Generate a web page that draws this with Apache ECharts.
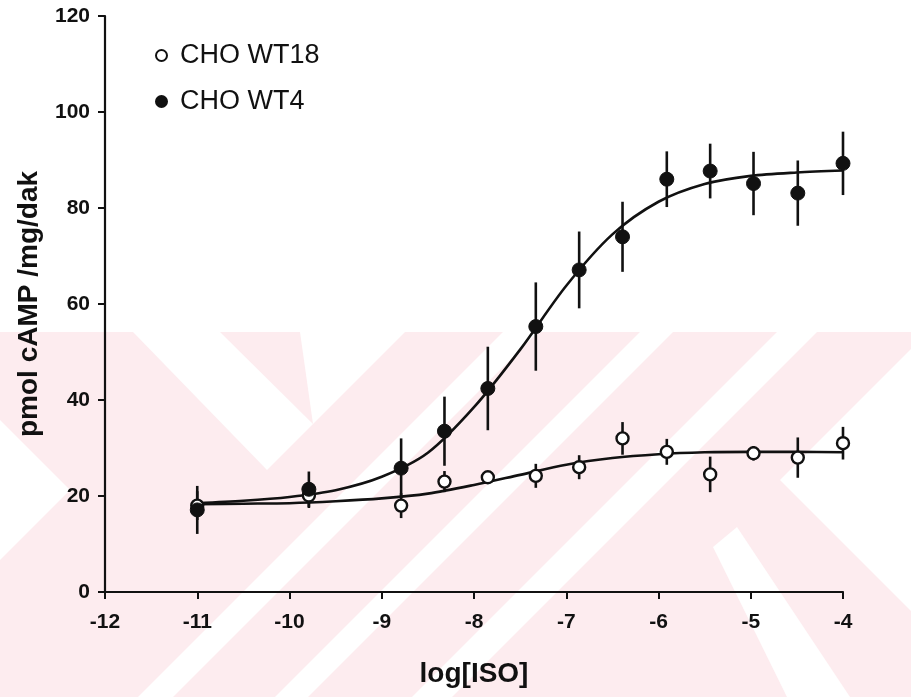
<!DOCTYPE html>
<html>
<head>
<meta charset="utf-8">
<script src="https://cdn.jsdelivr.net/npm/echarts@6/dist/echarts.min.js"></script>
<style>
html,body{margin:0;padding:0;background:#fff;}
#chart{width:911px;height:697px;}
</style>
</head>
<body>
<div id="chart"></div>
<script>
// log[ISO] concentrations of the measured points
const logIso = [-11, -9.79, -8.79, -8.32, -7.85, -7.33, -6.86, -6.39, -5.91, -5.44, -4.97, -4.49, -4.0];
// CHO WT18 (open circles)
const wt18Mean = [18.0, 20.1, 18.0, 23.0, 23.9, 24.2, 26.0, 32.0, 29.2, 24.5, 28.9, 28.0, 31.0];
const wt18Err  = [3.0, 2.6, 2.6, 2.2, 1.0, 2.5, 2.5, 3.4, 2.7, 3.7, 1.5, 4.2, 3.4];
// CHO WT4 (filled circles)
const wt4Mean = [17.1, 21.4, 25.8, 33.5, 42.4, 55.3, 67.1, 74.0, 86.0, 87.7, 85.1, 83.1, 89.3];
const wt4Err  = [5.0, 3.7, 6.2, 7.2, 8.7, 9.2, 8.0, 7.3, 5.8, 5.7, 6.6, 6.8, 6.6];
// fitted curves
const fitX     = [-11, -10.5, -10, -9.5, -9, -8.5, -8, -7.5, -7, -6.5, -6, -5.5, -5, -4.5, -4];
const wt18Fit  = [18.3, 18.4, 18.5, 18.9, 19.5, 20.5, 22.3, 24.4, 26.5, 27.9, 28.7, 29.1, 29.2, 29.2, 29.1];
const wt4Fit   = [18.5, 19.0, 19.8, 21.2, 24.0, 29.0, 38.5, 50.5, 63.8, 74.5, 81.3, 85.0, 86.7, 87.4, 87.8];
// axis ticks
const xTicks = [-12, -11, -10, -9, -8, -7, -6, -5, -4];
const yTicks = [0, 20, 40, 60, 80, 100, 120];

const ink = '#111111';
const pink = '#fdecef';
const FONT = '"Liberation Sans", Arial, sans-serif';

function pts(xs, ys) { return xs.map((x, i) => [x, ys[i]]); }
function errPts(xs, ys, es) { return xs.map((x, i) => [x, ys[i], es[i]]); }

function errRender(params, api) {
  const x = api.value(0), y = api.value(1), e = api.value(2);
  const a = api.coord([x, y + e]);
  const b = api.coord([x, y - e]);
  return { type: 'line', shape: { x1: a[0], y1: a[1], x2: b[0], y2: b[1] },
           style: { stroke: ink, lineWidth: 2.6 } };
}

// faint background watermark (decorative)
function poly(points, fill) {
  return { type: 'polygon', silent: true, z: -10, shape: { points: points }, style: { fill: fill } };
}
function slashStripe(u1, u2) {
  return poly([[u1 - 332, 332], [u2 - 332, 332], [u2 - 697, 697], [u1 - 697, 697]], '#ffffff');
}
const watermark = [
  { type: 'rect', silent: true, z: -11, shape: { x: 0, y: 332, width: 911, height: 365 }, style: { fill: pink } },
  poly([[0, 420], [70, 490], [0, 560]], '#ffffff'),
  poly([[133, 332], [220, 332], [313, 424], [267, 470]], '#ffffff'),
  poly([[300, 332], [405, 332], [313, 424]], '#ffffff'),
  slashStripe(835, 870),
  slashStripe(972, 1005),
  slashStripe(1109, 1149),
  poly([[713, 547], [737, 527], [850, 697], [787, 697]], '#ffffff'),
  poly([[780, 480], [911, 349], [911, 611]], '#ffffff')
];

const chart = echarts.init(document.getElementById('chart'), null, { renderer: 'canvas' });
chart.setOption({
  animation: false,
  backgroundColor: '#ffffff',
  graphic: watermark,
  grid: { left: 105, right: 68, top: 16, bottom: 105, containLabel: false },
  legend: {
    orient: 'vertical', left: 150, top: 37,
    itemWidth: 27, itemHeight: 11, itemGap: 19,
    textStyle: { fontFamily: FONT, fontSize: 27, color: ink },
    data: [
      { name: 'CHO WT18', icon: 'circle' },
      { name: 'CHO WT4', icon: 'circle' }
    ]
  },
  xAxis: {
    type: 'value', min: xTicks[0], max: xTicks[xTicks.length - 1], interval: 1,
    name: 'log[ISO]', nameLocation: 'middle', nameGap: 68,
    nameTextStyle: { fontFamily: FONT, fontSize: 28, fontWeight: 'bold', color: ink },
    axisLine: { show: true, onZero: false, lineStyle: { color: ink, width: 2.2 } },
    axisTick: { show: true, inside: false, length: 7, lineStyle: { color: ink, width: 2 } },
    axisLabel: { margin: 20, fontFamily: FONT, fontSize: 21, fontWeight: 'bold', color: ink },
    splitLine: { show: false }
  },
  yAxis: {
    type: 'value', min: yTicks[0], max: yTicks[yTicks.length - 1], interval: 20,
    name: 'pmol cAMP /mg/dak', nameLocation: 'middle', nameGap: 62, nameRotate: 90,
    nameTextStyle: { fontFamily: FONT, fontSize: 28, fontWeight: 'bold', color: ink },
    axisLine: { show: true, onZero: false, lineStyle: { color: ink, width: 2.2 } },
    axisTick: { show: true, inside: false, length: 7, lineStyle: { color: ink, width: 2 } },
    axisLabel: { margin: 15, fontFamily: FONT, fontSize: 21, fontWeight: 'bold', color: ink },
    splitLine: { show: false }
  },
  series: [
    { name: 'fit WT18', type: 'line', data: pts(fitX, wt18Fit), smooth: 0.3,
      showSymbol: false, symbol: 'none', lineStyle: { color: ink, width: 2.6 }, z: 2 },
    { name: 'fit WT4', type: 'line', data: pts(fitX, wt4Fit), smooth: 0.3,
      showSymbol: false, symbol: 'none', lineStyle: { color: ink, width: 2.6 }, z: 2 },
    { name: 'err WT18', type: 'custom', renderItem: errRender, data: errPts(logIso, wt18Mean, wt18Err), z: 3,
      encode: { x: 0, y: 1 } },
    { name: 'err WT4', type: 'custom', renderItem: errRender, data: errPts(logIso, wt4Mean, wt4Err), z: 3,
      encode: { x: 0, y: 1 } },
    { name: 'CHO WT18', type: 'scatter', data: pts(logIso, wt18Mean), symbol: 'circle', symbolSize: 12,
      itemStyle: { color: '#ffffff', borderColor: ink, borderWidth: 2.4, opacity: 1 }, z: 4 },
    { name: 'CHO WT4', type: 'scatter', data: pts(logIso, wt4Mean), symbol: 'circle', symbolSize: 14,
      itemStyle: { color: ink, borderColor: ink, borderWidth: 1, opacity: 1 }, z: 5 }
  ]
});
</script>
</body>
</html>
